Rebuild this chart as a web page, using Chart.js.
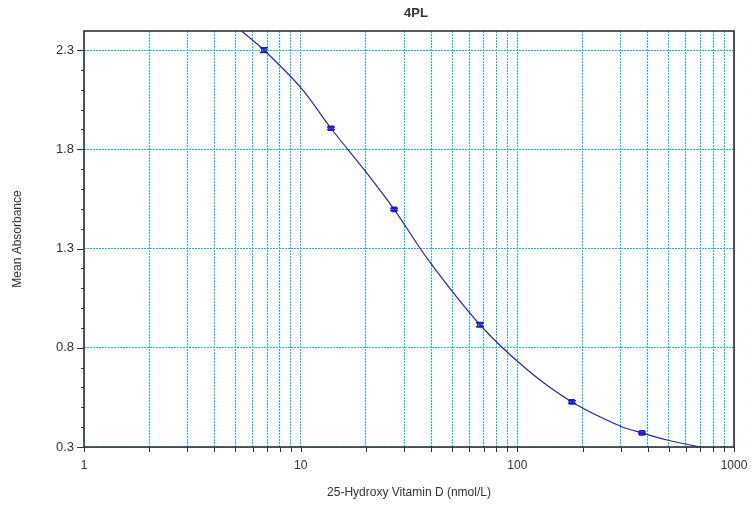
<!DOCTYPE html>
<html>
<head>
<meta charset="utf-8">
<script src="https://cdn.jsdelivr.net/npm/chart.js@4/dist/chart.umd.min.js"></script>
<style>
  html, body { margin: 0; padding: 0; background: #fff; }
  #wrap { width: 751px; height: 506px; }
</style>
</head>
<body>
<div id="wrap"><canvas id="myChart" width="751" height="506"></canvas></div>
<script>
// standards (nmol/L) and mean absorbance with error
var concX = [6.77, 13.8, 27.0, 67.2, 178.6, 375.8];
var meanAbs = [2.300, 1.906, 1.497, 0.916, 0.527, 0.371];
var errAbs = [0.012, 0.006, 0.006, 0.010, 0.006, 0.005];

// 4PL fitted curve
var fitX = [5.34, 6.77, 10.1, 13.8, 20.0, 27.0, 39.5, 67.2, 110.4, 178.6, 297.6, 375.8, 497.0, 696.0];
var fitY = [2.396, 2.300, 2.106, 1.906, 1.686, 1.497, 1.231, 0.916, 0.692, 0.527, 0.406, 0.371, 0.334, 0.300];

// axis ticks
var xTickLabels = [1, 10, 100, 1000];
var xGridTicks = [1, 2, 3, 4, 5, 6, 7, 8, 9, 10, 20, 30, 40, 50, 60, 70, 80, 90, 100, 200, 300, 400, 500, 600, 700, 800, 900, 1000];
var yTickLabels = [0.3, 0.8, 1.3, 1.8, 2.3];
var yAllTicks = [0.3, 0.4, 0.5, 0.6, 0.7, 0.8, 0.9, 1.0, 1.1, 1.2, 1.3, 1.4, 1.5, 1.6, 1.7, 1.8, 1.9, 2.0, 2.1, 2.2, 2.3];

var FONT = "Arial, 'Liberation Sans', sans-serif";
var INK = '#333333';
var GRID = '#22b4d4';
var MARK = '#1c1cc8';

function isYMajor(v) {
  return yTickLabels.some(function (t) { return Math.abs(t - v) < 1e-6; });
}
function isXLabel(v) {
  return xTickLabels.some(function (t) { return Math.abs(t - v) < 1e-6; });
}

var extras = {
  id: 'extras',
  afterDatasetsDraw: function (chart) {
    var c = chart.ctx, xs = chart.scales.x, ys = chart.scales.y;
    c.save();
    c.strokeStyle = MARK;
    c.lineWidth = 1.5;
    for (var i = 0; i < concX.length; i++) {
      var px = xs.getPixelForValue(concX[i]);
      var top = ys.getPixelForValue(meanAbs[i] + errAbs[i]);
      var bot = ys.getPixelForValue(meanAbs[i] - errAbs[i]);
      c.beginPath();
      c.moveTo(px, top); c.lineTo(px, bot);
      c.moveTo(px - 4, top); c.lineTo(px + 4, top);
      c.moveTo(px - 4, bot); c.lineTo(px + 4, bot);
      c.stroke();
    }
    c.restore();
  },
  afterDraw: function (chart) {
    var c = chart.ctx, a = chart.chartArea, xs = chart.scales.x, ys = chart.scales.y;
    c.save();
    // tick marks
    c.strokeStyle = INK;
    c.lineWidth = 1;
    c.beginPath();
    yAllTicks.forEach(function (v) {
      var py = Math.round(ys.getPixelForValue(v)) + 0.5;
      var len = isYMajor(v) ? 7 : 3;
      c.moveTo(a.left - len, py); c.lineTo(a.left, py);
    });
    xGridTicks.forEach(function (v) {
      var px = Math.round(xs.getPixelForValue(v)) + 0.5;
      c.moveTo(px, a.bottom); c.lineTo(px, a.bottom + 5);
    });
    c.stroke();
    // frame
    c.lineWidth = 1.6;
    c.strokeRect(a.left, a.top, a.right - a.left, a.bottom - a.top);
    // title
    c.fillStyle = INK;
    c.font = 'bold 13px ' + FONT;
    c.textAlign = 'center';
    c.textBaseline = 'middle';
    c.fillText('4PL', (a.left + a.right) / 2 + 7, 13);
    c.restore();
  }
};

var ctx = document.getElementById('myChart');
var chart1 = new Chart(ctx, {
  type: 'scatter',
  data: {
    datasets: [{
      type: 'line',
      data: fitX.map(function (x, i) { return {x: x, y: fitY[i]}; }),
      borderColor: '#2a2a96',
      borderWidth: 1.2,
      pointRadius: 0,
      fill: false,
      showLine: true,
      tension: 0.35
    }, {
      data: concX.map(function (x, i) { return {x: x, y: meanAbs[i]}; }),
      pointStyle: 'rect',
      pointRadius: 3,
      borderColor: MARK,
      borderWidth: 1.5,
      backgroundColor: '#ffffff'
    }]
  },
  options: {
    responsive: false,
    animation: false,
    layout: { padding: { top: 31, right: 17, bottom: 0, left: 0 } },
    plugins: {
      legend: { display: false },
      tooltip: { enabled: false },
      title: { display: false }
    },
    scales: {
      x: {
        type: 'logarithmic',
        min: 1,
        max: 1000,
        afterBuildTicks: function (s) { s.ticks = xGridTicks.map(function (v) { return {value: v}; }); },
        afterFit: function (s) { s.height = 59; s.paddingLeft = 0; s.paddingRight = 0; },
        border: { display: false, dash: [2, 1] },
        grid: { color: GRID, lineWidth: 1, drawTicks: false },
        ticks: {
          autoSkip: false,
          maxRotation: 0,
          padding: 11,
          color: INK,
          font: { family: FONT, size: 12 },
          callback: function (v) { return isXLabel(v) ? String(v) : ''; }
        },
        title: {
          display: true,
          text: '25-Hydroxy Vitamin D (nmol/L)',
          color: INK,
          font: { family: FONT, size: 12 },
          padding: { top: 0, bottom: 6 }
        }
      },
      y: {
        type: 'linear',
        min: 0.3,
        max: 2.396,
        afterBuildTicks: function (s) { s.ticks = yAllTicks.map(function (v) { return {value: v}; }); },
        afterFit: function (s) { s.width = 84; },
        border: { display: false, dash: [2, 1] },
        grid: {
          color: function (c) { return c.tick && isYMajor(c.tick.value) ? GRID : 'rgba(0,0,0,0)'; },
          lineWidth: 1,
          drawTicks: false
        },
        ticks: {
          autoSkip: false,
          padding: 10,
          color: INK,
          font: { family: FONT, size: 13 },
          callback: function (v) { return isYMajor(v) ? v.toFixed(1) : ''; }
        },
        title: {
          display: true,
          text: 'Mean Absorbance',
          color: INK,
          font: { family: FONT, size: 12 },
          padding: { top: 10, bottom: 0 }
        }
      }
    }
  },
  plugins: [extras]
});
</script>
</body>
</html>
